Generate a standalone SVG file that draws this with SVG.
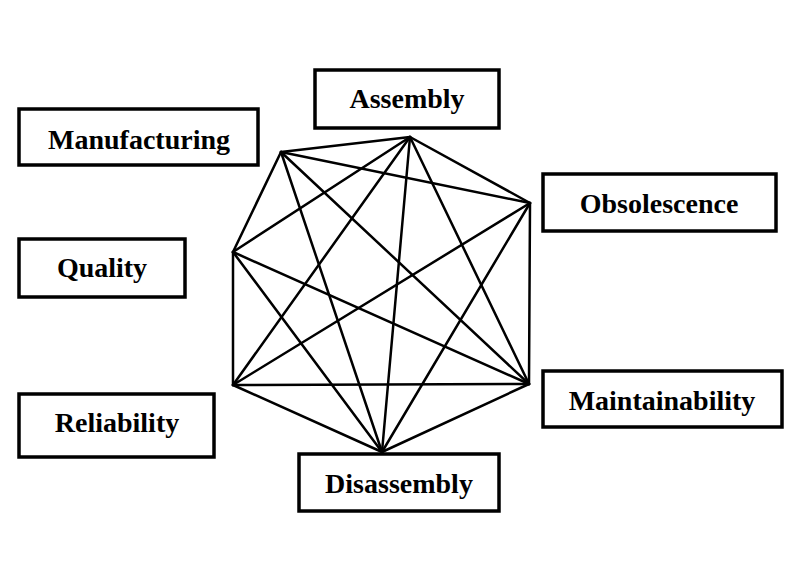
<svg xmlns="http://www.w3.org/2000/svg" width="802" height="564" viewBox="0 0 802 564">
<style>
.box{fill:#fff;stroke:#000;stroke-width:3.5}
.lbl{font-family:"Liberation Serif","Times New Roman",serif;font-weight:bold;font-size:28px;fill:#000;text-anchor:middle}
.edges line{stroke:#000;stroke-width:2.5;stroke-linecap:round}
</style>
<rect width="802" height="564" fill="#fff"/>
<g id="connectors" class="edges">
<line x1="281" y1="152" x2="410" y2="137"/>
<line x1="281" y1="152" x2="530" y2="203"/>
<line x1="281" y1="152" x2="529" y2="384"/>
<line x1="281" y1="152" x2="382" y2="452"/>
<line x1="281" y1="152" x2="233" y2="252"/>
<line x1="410" y1="137" x2="530" y2="203"/>
<line x1="410" y1="137" x2="529" y2="384"/>
<line x1="410" y1="137" x2="382" y2="452"/>
<line x1="410" y1="137" x2="233" y2="385"/>
<line x1="410" y1="137" x2="233" y2="252"/>
<line x1="530" y1="203" x2="529" y2="384"/>
<line x1="530" y1="203" x2="382" y2="452"/>
<line x1="530" y1="203" x2="233" y2="385"/>
<line x1="529" y1="384" x2="382" y2="452"/>
<line x1="529" y1="384" x2="233" y2="385"/>
<line x1="529" y1="384" x2="233" y2="252"/>
<line x1="382" y1="452" x2="233" y2="385"/>
<line x1="382" y1="452" x2="233" y2="252"/>
<line x1="233" y1="385" x2="233" y2="252"/>
</g>
<g id="manufacturing"><rect class="box" x="19" y="109" width="239" height="56"/><text class="lbl" x="139" y="149">Manufacturing</text></g>
<g id="assembly"><rect class="box" x="315" y="70" width="184" height="58"/><text class="lbl" x="407" y="108">Assembly</text></g>
<g id="obsolescence"><rect class="box" x="543" y="174" width="233" height="57"/><text class="lbl" x="659" y="213">Obsolescence</text></g>
<g id="quality"><rect class="box" x="19" y="239" width="166" height="58"/><text class="lbl" x="102" y="277">Quality</text></g>
<g id="maintainability"><rect class="box" x="543" y="371" width="239" height="56"/><text class="lbl" x="662" y="410">Maintainability</text></g>
<g id="reliability"><rect class="box" x="19" y="394" width="195" height="63"/><text class="lbl" x="117" y="432">Reliability</text></g>
<g id="disassembly"><rect class="box" x="299" y="454" width="200" height="57"/><text class="lbl" x="399" y="493">Disassembly</text></g>
</svg>
